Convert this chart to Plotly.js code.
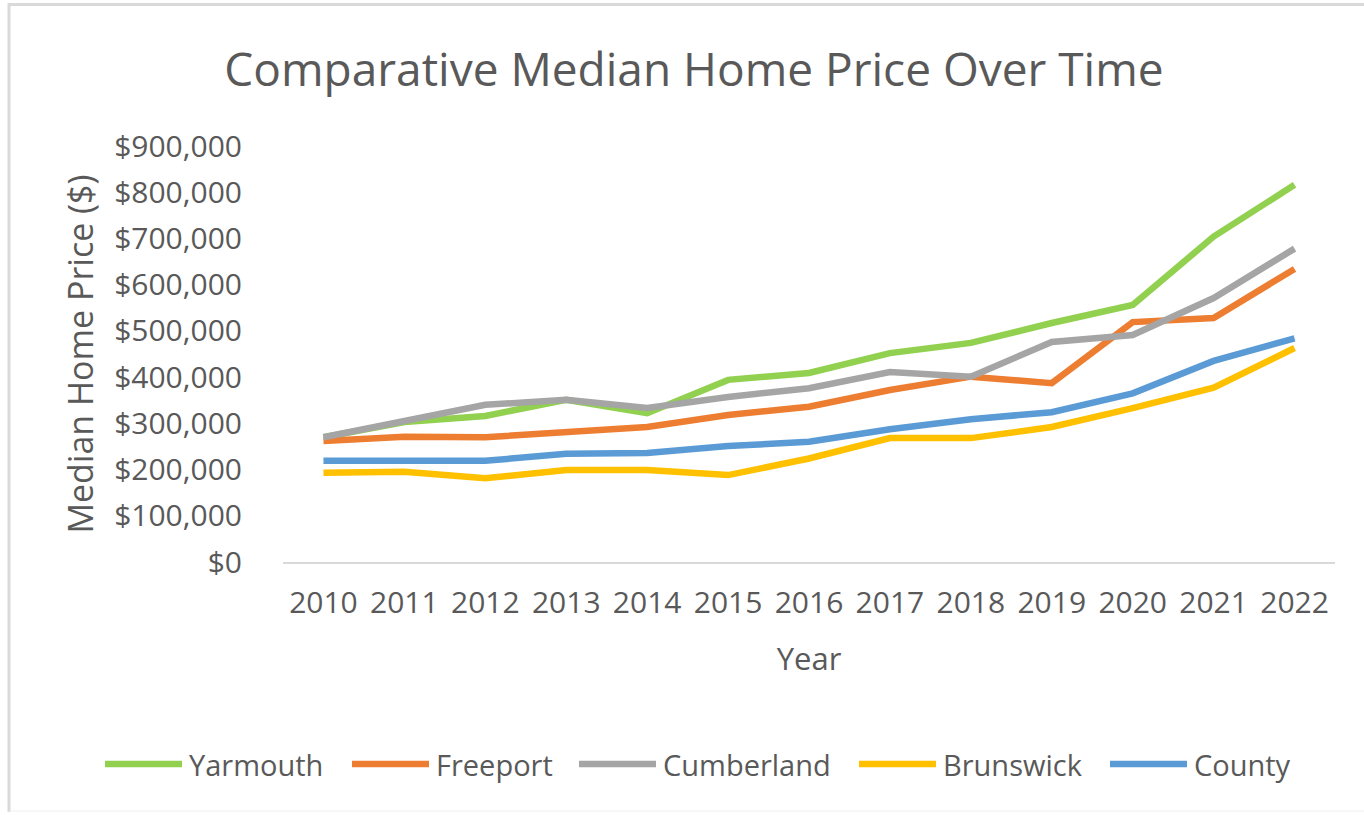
<!DOCTYPE html>
<html>
<head>
<meta charset="utf-8">
<script src="https://cdn.plot.ly/plotly-3.0.1.min.js"></script>
<style>
  html, body { margin: 0; padding: 0; background: #ffffff; }
  #chart { width: 1364px; height: 815px; }
</style>
</head>
<body>
<div id="chart"></div>
<script>
// ---- Data ----
const years = ['2010','2011','2012','2013','2014','2015','2016','2017','2018','2019','2020','2021','2022'];
const yarmouth   = [270000, 303000, 316000, 351000, 322000, 394000, 409000, 452000, 474000, 517000, 556000, 704000, 816000];
const freeport   = [262000, 271000, 270000, 281000, 292000, 318000, 336000, 372000, 401000, 387000, 519000, 528000, 634000];
const cumberland = [270000, 305000, 340000, 351000, 333000, 357000, 376000, 411000, 401000, 476000, 491000, 571000, 678000];
const brunswick  = [193000, 195000, 181000, 199000, 199000, 188000, 224000, 268000, 268000, 292000, 333000, 377000, 463000];
const county     = [219000, 219000, 219000, 234000, 236000, 251000, 260000, 287000, 309000, 324000, 365000, 435000, 484000];

const seriesNames  = ['Yarmouth', 'Freeport', 'Cumberland', 'Brunswick', 'County'];
const seriesValues = [yarmouth, freeport, cumberland, brunswick, county];
const seriesColors = ['#92D050', '#ED7D31', '#A5A5A5', '#FFC000', '#5B9BD5'];

// ---- Layout config (pixels) ----
const W = 1364, H = 815;
const M = { l: 283, r: 29, t: 146, b: 253 };
const plotW = W - M.l - M.r, plotH = H - M.t - M.b;
const px2x = px => (px - M.l) / plotW;
const py2y = py => (H - M.b - py) / plotH;

const legendY = 764;
const legendLineStart = [105, 352, 579, 859, 1110];
const legendLineLen = 77;
const legendTextGap = 5;

const textColor = '#595959';
const fontFam = '"Open Sans", "Noto Sans", sans-serif';

const traces = seriesNames.map((name, i) => ({
  type: 'scatter',
  mode: 'lines',
  name: name,
  x: years,
  y: seriesValues[i],
  line: { color: seriesColors[i], width: 6.5 },
  showlegend: false,
  hoverinfo: 'x+y+name'
}));

const shapes = [];
const annotations = [];
seriesNames.forEach((name, i) => {
  const x0 = legendLineStart[i];
  shapes.push({
    type: 'line', xref: 'paper', yref: 'paper',
    x0: px2x(x0), x1: px2x(x0 + legendLineLen),
    y0: py2y(legendY), y1: py2y(legendY),
    line: { color: seriesColors[i], width: 6.5 }
  });
  annotations.push({
    xref: 'paper', yref: 'paper',
    x: px2x(x0 + legendLineLen + legendTextGap), y: py2y(legendY),
    xanchor: 'left', yanchor: 'middle', showarrow: false,
    text: name,
    font: { family: fontFam, size: 29, color: textColor }
  });
});

// outer frame (top and left edges, faint bottom)
shapes.push({ type: 'line', xref: 'paper', yref: 'paper', layer: 'below',
  x0: px2x(8), x1: px2x(1364), y0: py2y(4.5), y1: py2y(4.5),
  line: { color: '#d9d9d9', width: 3 } });
shapes.push({ type: 'line', xref: 'paper', yref: 'paper', layer: 'below',
  x0: px2x(9), x1: px2x(9), y0: py2y(3), y1: py2y(812),
  line: { color: '#d9d9d9', width: 3 } });
shapes.push({ type: 'line', xref: 'paper', yref: 'paper', layer: 'below',
  x0: px2x(9), x1: px2x(1364), y0: py2y(811), y1: py2y(811),
  line: { color: '#f0f0f0', width: 1 } });

const layout = {
  width: W, height: H,
  margin: M,
  paper_bgcolor: '#ffffff',
  plot_bgcolor: '#ffffff',
  showlegend: false,
  font: { family: fontFam, color: textColor },
  title: {
    text: 'Comparative Median Home Price Over Time',
    font: { family: fontFam, size: 46, color: textColor },
    xref: 'container', yref: 'container',
    x: 694 / W, y: 1 - 70 / H,
    xanchor: 'center', yanchor: 'middle'
  },
  xaxis: {
    type: 'category',
    range: [-0.5, years.length - 0.5],
    showgrid: false,
    zeroline: false,
    showline: true,
    linecolor: '#d9d9d9',
    linewidth: 2,
    ticks: 'outside',
    ticklen: 13,
    tickcolor: 'rgba(0,0,0,0)',
    tickfont: { family: fontFam, size: 30, color: textColor },
    title: { text: 'Year', font: { family: fontFam, size: 31, color: textColor }, standoff: 27 },
    automargin: false
  },
  yaxis: {
    range: [0, 900000],
    dtick: 100000,
    tick0: 0,
    tickprefix: '$',
    tickformat: ',d',
    showgrid: false,
    zeroline: false,
    showline: false,
    ticks: 'outside',
    ticklen: 34,
    tickcolor: 'rgba(0,0,0,0)',
    tickfont: { family: fontFam, size: 30, color: textColor },
    title: { text: 'Median Home Price ($)', font: { family: fontFam, size: 34, color: textColor }, standoff: 10 },
    automargin: false
  },
  shapes: shapes,
  annotations: annotations
};

Plotly.newPlot('chart', traces, layout, { displayModeBar: false, staticPlot: true });
</script>
</body>
</html>
